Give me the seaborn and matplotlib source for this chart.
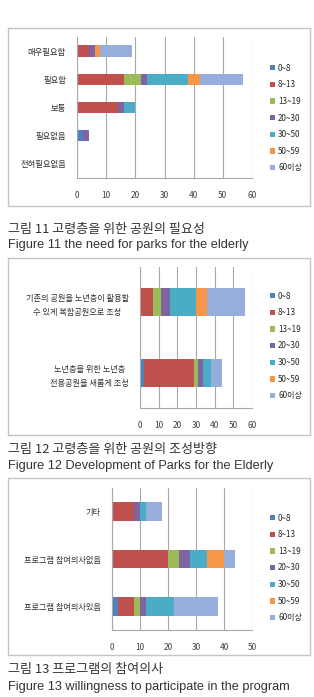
import numpy as np
import pandas as pd
import matplotlib
matplotlib.use("Agg")
import matplotlib.pyplot as plt
import seaborn as sns
from matplotlib.patches import Patch, Rectangle

sns.set_style("white")
plt.rcParams['font.family'] = ['Noto Sans CJK KR', 'DejaVu Sans']

# age groups (legend) and colours
age_groups = ["0~8", "8~13", "13~19", "20~30", "30~50", "50~59", "60이상"]
colors = ["#4F81BD", "#C0504D", "#9BBB59", "#8064A2", "#4BACC6", "#F79646", "#96AEDB"]

# figure 11 - need for parks
need_cats = ["매우필요함", "필요함", "보통", "필요없음", "전혀필요없음"]
need_vals = [
    [0, 4, 0, 2, 0, 2, 11],
    [0, 16, 6, 2, 14, 4, 15],
    [0, 14, 0, 2, 4, 0, 0],
    [2, 0, 0, 2, 0, 0, 0],
    [0, 0, 0, 0, 0, 0, 0],
]

# figure 12 - development direction
dev_cats = ["기존의 공원을 노년층이 활용할\n수 있게 복합공원으로 조성",
            "노년층을 위한 노년층\n전용공원을 새롭게 조성"]
dev_vals = [
    [0, 7, 4, 5, 14, 6, 20],
    [2, 27, 2, 3, 4, 0, 6],
]

# figure 13 - willingness to participate
part_cats = ["기타", "프로그램 참여의사없음", "프로그램 참여의사있음"]
part_vals = [
    [0, 8, 0, 2, 2, 0, 6],
    [0, 20, 4, 4, 6, 6, 4],
    [2, 6, 2, 2, 10, 0, 16],
]

W, H = 314, 697
fig = plt.figure(figsize=(W / 100, H / 100), dpi=100)
fig.patch.set_facecolor("white")


def px_axes(x0, x1, y0, y1):
    return fig.add_axes([x0 / W, 1 - y1 / H, (x1 - x0) / W, (y1 - y0) / H])


def draw_chart(ax, cats, vals, xmax, leg_y, label_size):
    df = pd.DataFrame(vals, columns=age_groups)
    df["cat"] = cats
    cum = df[age_groups].cumsum(axis=1)
    for i in range(len(age_groups) - 1, -1, -1):
        sns.barplot(x=cum[age_groups[i]], y=df["cat"], orient="h", color=colors[i],
                    saturation=1, width=0.4, linewidth=0, ax=ax)
    n = len(cats)
    ax.set_xlim(0, xmax)
    ax.set_ylim(n - 0.5, -0.5)
    ax.set_xticks(np.arange(0, xmax + 1, 10))
    ax.set_yticks(np.arange(-0.5, n, 1), minor=True)
    ax.set_xlabel("")
    ax.set_ylabel("")
    ax.grid(axis="x", color="#A8A8A8", lw=0.8)
    ax.grid(axis="y", visible=False)
    ax.set_axisbelow(True)
    for s in ["top", "right"]:
        ax.spines[s].set_visible(False)
    for s in ["left", "bottom"]:
        ax.spines[s].set_color("#A8A8A8")
        ax.spines[s].set_linewidth(0.8)
    ax.tick_params(axis="x", length=0, pad=9, labelsize=6, labelcolor="#404040")
    ax.tick_params(axis="y", which="major", length=0, pad=8, labelsize=label_size,
                   labelcolor="#303030")
    ax.tick_params(axis="y", which="minor", length=3, color="#A8A8A8", width=0.8)
    for t in ax.get_yticklabels():
        t.set_multialignment("center")
        t.set_linespacing(1.7)
    handles = [Patch(facecolor=c, edgecolor="none") for c in colors]
    ax.legend(handles, age_groups, loc="center left",
              bbox_to_anchor=(266 / W, 1 - leg_y / H), bbox_transform=fig.transFigure,
              frameon=False, fontsize=5.8, handlelength=0.6, handleheight=0.6,
              handletextpad=0.4, labelspacing=0.95, borderpad=0)


def box(y0, y1):
    fig.patches.append(Rectangle((8 / W, 1 - y1 / H), 302 / W, (y1 - y0) / H,
                                 transform=fig.transFigure, fill=False,
                                 edgecolor="#C4C4C4", lw=1))


def caption(y_ko, y_en, ko, en):
    fig.text(8 / W, 1 - y_ko / H, ko, fontsize=9.4, color="#333333", va="center")
    fig.text(8 / W, 1 - y_en / H, en, fontsize=9.2, color="#333333", va="center",
             family=["Liberation Sans"])


# chart 1
box(28, 206)
ax1 = px_axes(77, 252, 37, 178)
draw_chart(ax1, need_cats, need_vals, 60, 118, 6)
caption(229, 245, "그림 11 고령층을 위한 공원의 필요성",
        "Figure 11 the need for parks for the elderly")

# chart 2
box(258, 435)
ax2 = px_axes(140, 252, 267, 408)
draw_chart(ax2, dev_cats, dev_vals, 60, 346, 5.9)
caption(450, 466, "그림 12 고령층을 위한 공원의 조성방향",
        "Figure 12 Development of Parks for the Elderly")

# chart 3
box(478, 655)
ax3 = px_axes(112, 252, 488, 630)
draw_chart(ax3, part_cats, part_vals, 50, 568, 5.9)
caption(670, 687, "그림 13 프로그램의 참여의사",
        "Figure 13 willingness to participate in the program")

fig.savefig("out.png", dpi=100, facecolor="white")
